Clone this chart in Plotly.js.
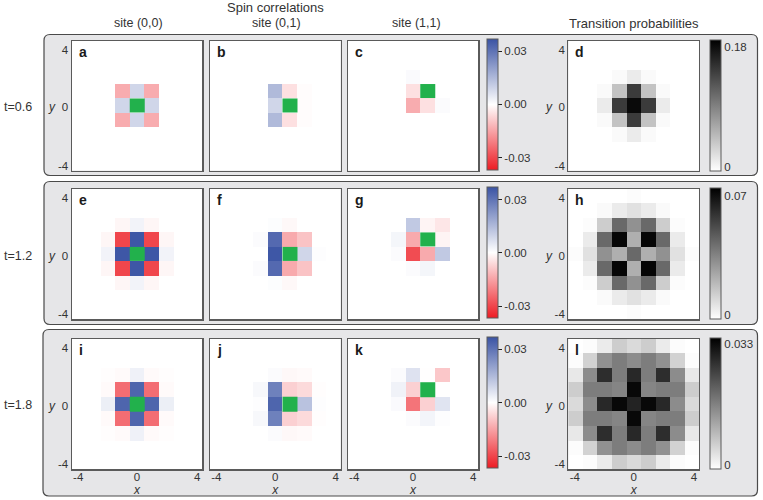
<!DOCTYPE html>
<html>
<head>
<meta charset="utf-8">
<script src="https://cdn.plot.ly/plotly-3.0.1.min.js"></script>
<style>html,body{margin:0;padding:0;background:#fff}#chart{width:763px;height:500px}</style>
</head>
<body>
<div id="chart"></div>
<script>
const o = 0;
const sites = [-4,-3,-2,-1,0,1,2,3,4];
const rowsY = [4,3,2,1,0,-1,-2,-3,-4];

const zA = [
[o,o,o,o,o,o,o,o,o],[o,o,o,o,o,o,o,o,o],[o,o,o,o,o,o,o,o,o],
[o,o,o,-.0135,.0088,-.0135,o,o,o],
[o,o,o,.0088,o,.0088,o,o,o],
[o,o,o,-.0135,.0088,-.0135,o,o,o],
[o,o,o,o,o,o,o,o,o],[o,o,o,o,o,o,o,o,o],[o,o,o,o,o,o,o,o,o]];
const zB = [
[o,o,o,o,o,o,o,o,o],[o,o,o,o,o,o,o,o,o],[o,o,o,o,o,o,o,o,o],
[o,o,o,o,.0148,-.005,-.0005,o,o],
[o,o,o,o,.0088,o,-.0005,o,o],
[o,o,o,o,.0148,-.005,-.0005,o,o],
[o,o,o,o,o,o,o,o,o],[o,o,o,o,o,o,o,o,o],[o,o,o,o,o,o,o,o,o]];
const zC = [
[o,o,o,o,o,o,o,o,o],[o,o,o,o,o,o,o,o,o],
[o,o,o,o,.001,o,o,o,o],
[o,o,o,o,-.005,o,o,o,o],
[o,o,o,o,-.0135,-.005,.0008,o,o],
[o,o,o,o,o,o,o,o,o],[o,o,o,o,o,o,o,o,o],[o,o,o,o,o,o,o,o,o],[o,o,o,o,o,o,o,o,o]];
const zD = [
[o,o,o,o,o,o,o,o,o],[o,o,o,o,o,o,o,o,o],
[o,o,o,.0035,.014,.0035,o,o,o],
[o,o,.0035,.042,.138,.042,.0035,o,o],
[o,o,.014,.138,.173,.138,.014,o,o],
[o,o,.0035,.042,.138,.042,.0035,o,o],
[o,o,o,.0035,.014,.0035,o,o,o],
[o,o,o,o,o,o,o,o,o],[o,o,o,o,o,o,o,o,o]];

const zE = [
[o,o,o,o,o,o,o,o,o],[o,o,o,o,o,o,o,o,o],
[o,o,o,-.0015,.0025,-.0015,o,o,o],
[o,o,-.0015,-.03,.036,-.03,-.0015,o,o],
[o,o,.0025,.036,o,.036,.0025,o,o],
[o,o,-.0015,-.03,.036,-.03,-.0015,o,o],
[o,o,o,-.0015,.0025,-.0015,o,o,o],
[o,o,o,o,o,o,o,o,o],[o,o,o,o,o,o,o,o,o]];
const zF = [
[o,o,o,o,o,o,o,o,o],[o,o,o,o,o,o,o,o,o],
[o,o,o,o,.0005,-.0012,o,o,o],
[o,o,o,.0008,.032,-.0137,-.0098,o,o],
[o,o,o,o,.036,o,.0088,.0004,o],
[o,o,o,.0008,.032,-.0137,-.0098,o,o],
[o,o,o,o,.0005,-.0012,o,o,o],
[o,o,o,o,o,o,o,o,o],[o,o,o,o,o,o,o,o,o]];
const zG = [
[o,o,o,o,o,o,o,o,o],[o,o,o,o,o,o,o,o,o],
[o,o,o,o,.0115,-.0018,-.004,o,o],
[o,o,o,.002,-.0137,o,-.0018,o,o],
[o,o,o,.0008,-.029,-.0137,.0115,o,o],
[o,o,o,o,.0008,.002,o,o,o],
[o,o,o,o,o,o,o,o,o],[o,o,o,o,o,o,o,o,o],[o,o,o,o,o,o,o,o,o]];
const zH = [
[o,o,o,o,.0008,o,o,o,o],
[o,o,.0014,.0055,.0082,.0055,.0014,o,o],
[o,.0008,.0137,.0412,.0302,.0412,.0137,.0008,o],
[o,.0055,.0412,.0686,.022,.0686,.0412,.0055,o],
[.0008,.0082,.0302,.022,.0412,.022,.0302,.0082,.0008],
[o,.0055,.0412,.0686,.022,.0686,.0412,.0055,o],
[o,.0008,.0137,.0412,.0302,.0412,.0137,.0008,o],
[o,o,.0014,.0055,.0082,.0055,.0014,o,o],
[o,o,o,o,.0008,o,o,o,o]];

const zI = [
[o,o,o,o,o,o,o,o,o],[o,o,o,o,o,o,o,o,o],
[o,o,-.0003,-.0008,.003,-.0008,-.0003,o,o],
[o,o,-.0008,-.0236,.033,-.0236,-.0008,o,o],
[o,o,.0035,.033,o,.033,.0035,o,o],
[o,o,-.0008,-.0236,.033,-.0236,-.0008,o,o],
[o,o,-.0003,-.0008,.003,-.0008,-.0003,o,o],
[o,o,o,o,o,o,o,o,o],[o,o,o,o,o,o,o,o,o]];
const zJ = [
[o,o,o,o,o,o,o,o,o],[o,o,o,o,o,o,o,o,o],
[o,o,o,o,.0008,-.0012,-.0008,o,o],
[o,o,o,.0015,.027,-.0076,-.006,-.0004,o],
[o,o,o,.0004,.033,o,.013,.0004,o],
[o,o,o,.0015,.027,-.0076,-.006,-.0004,o],
[o,o,o,o,.0008,-.0012,-.0008,o,o],
[o,o,o,o,o,o,o,o,o],[o,o,o,o,o,o,o,o,o]];
const zK = [
[o,o,o,o,o,o,o,o,o],[o,o,o,o,o,o,o,o,o],
[o,o,o,.0008,.0062,-.0002,-.009,o,o],
[o,o,o,.0028,-.0076,o,-.0002,o,o],
[o,o,o,.001,-.0225,-.0076,.0058,o,o],
[o,o,o,o,.0008,.0022,.0004,o,o],
[o,o,o,o,o,o,o,o,o],[o,o,o,o,o,o,o,o,o],[o,o,o,o,o,o,o,o,o]];
const zL = [
[o,.0004,.0026,.0065,.0048,.0065,.0026,.0004,o],
[.0004,.0058,.0142,.0168,.0149,.0168,.0142,.0058,.0004],
[.003,.0149,.0272,.0168,.0278,.0168,.0272,.0149,.003],
[.0065,.0168,.0168,.0158,.032,.0158,.0168,.0168,.0065],
[.0048,.0149,.0278,.032,.0285,.032,.0278,.0149,.0048],
[.0065,.0168,.0168,.0158,.032,.0158,.0168,.0168,.0065],
[.003,.0149,.0272,.0168,.0278,.0168,.0272,.0149,.003],
[.0004,.0058,.0142,.0168,.0149,.0168,.0142,.0058,.0004],
[o,.0004,.0026,.0065,.0048,.0065,.0026,.0004,o]];

const panelLetters = ['a','b','c','d','e','f','g','h','i','j','k','l'];
const panelValues = [zA,zB,zC,zD,zE,zF,zG,zH,zI,zJ,zK,zL];
const greenX = [0,1,1,null,0,1,1,null,0,1,1,null];
const greenY = [0,0,1,null,0,0,1,null,0,0,1,null];
const grayMax = [0.18,0.07,0.033];
const grayTickText = [['0','0.18'],['0','0.07'],['0','0.033']];
const grayTickPos = [[.0059,.1708],[.0025,.066],[.001,.0316]];
const corrLimit = 0.0368;
const corrTickVals = [-0.03,0,0.03];
const corrTickText = ['-0.03','0.00','0.03'];
const axisTickText = ['-4','0','4'];
const xTickPos = [-4.05,0,4.15];
const yTickPos = [-4.15,-0.12,3.87];
const rowNames = ['t=0.6','t=1.2','t=1.8'];
const colTitles = ['site (0,0)','site (0,1)','site (1,1)','Transition probabilities'];

const W = 763, H = 500;
const px = v => v / W, py = v => 1 - v / H;
const colL = [71.7,209.7,347.7,568.3], colR = [202.3,340.7,478.3,699];
const rowT = [40.7,189,338.7], rowB = [170.7,319.3,469.3];
const boxes = [[44,34.5,757.5,175.5],[44,181.5,757.5,324.5],[43,329.5,757.5,496]];
const FONT = '"Liberation Sans", Arial, Helvetica, sans-serif';
const TXT = '#333333', EDGE = '#5a5a5a';

const redBlue = [[0,'#ed1c24'],[0.5,'#ffffff'],[1,'#3a53a4']];
const whiteBlack = [[0,'#ffffff'],[1,'#000000']];

const data = [], annotations = [], shapes = [];
const layout = {
  width: W, height: H, margin: {l:0,r:0,t:0,b:0}, showlegend: false,
  paper_bgcolor: '#ffffff', plot_bgcolor: '#ffffff',
  font: {family: FONT, size: 11.5, color: TXT}, annotations, shapes
};

boxes.forEach(b => {
  const r = 6, [x0,y0,x1,y1] = b;
  const X = px, Y = py;
  shapes.push({type:'path', xref:'paper', yref:'paper', layer:'below',
    fillcolor:'#e6e6e8', line:{color:'#4a4a4a', width:1.2},
    path:`M ${X(x0+r)} ${Y(y0)} L ${X(x1-r)} ${Y(y0)} Q ${X(x1)} ${Y(y0)} ${X(x1)} ${Y(y0+r)} L ${X(x1)} ${Y(y1-r)} Q ${X(x1)} ${Y(y1)} ${X(x1-r)} ${Y(y1)} L ${X(x0+r)} ${Y(y1)} Q ${X(x0)} ${Y(y1)} ${X(x0)} ${Y(y1-r)} L ${X(x0)} ${Y(y0+r)} Q ${X(x0)} ${Y(y0)} ${X(x0+r)} ${Y(y0)} Z`});
});

function cbar(x, top, bottom, extra) {
  return Object.assign({
    thickness: 10.7, thicknessmode:'pixels', len: bottom-top, lenmode:'pixels',
    x: px(x), xanchor:'left', xpad:0, y: py((top+bottom)/2), yanchor:'middle', ypad:0,
    outlinewidth:1, outlinecolor:EDGE, borderwidth:0,
    tickmode:'array', tickfont:{family:FONT,size:11.5,color:TXT}
  }, extra);
}

panelLetters.forEach((letter, i) => {
  const r = Math.floor(i/4), c = i%4, n = i+1, suf = n===1 ? '' : String(n);
  const gray = c === 3;
  const t = {
    type:'heatmap', x:sites, y:rowsY, z:panelValues[i], xaxis:'x'+suf, yaxis:'y'+suf,
    colorscale: gray ? whiteBlack : redBlue,
    zmin: gray ? 0 : -corrLimit, zmax: gray ? grayMax[r] : corrLimit,
    hoverinfo:'skip', showscale: c === 2 || c === 3, xgap:0, ygap:0
  };
  if (c === 2) t.colorbar = cbar(487.3, rowT[r]-1.5, rowB[r]-1, {
    tickvals:corrTickVals, ticktext:corrTickText, ticks:'outside', ticklen:4, tickcolor:'#222', tickwidth:1});
  if (c === 3) t.colorbar = cbar(710, rowT[r]-0.7, rowB[r], {
    tickvals:grayTickPos[r], ticktext:grayTickText[r], ticks:'', ticklen:0});
  data.push(t);
  if (greenX[i] !== null) data.push({
    type:'heatmap', x:[greenX[i]], y:[greenY[i]], z:[[1]], xaxis:'x'+suf, yaxis:'y'+suf,
    colorscale:[[0,'#22b14c'],[1,'#22b14c']], showscale:false, hoverinfo:'skip'
  });
  const base = {range:[-4.5,4.5], showgrid:false, zeroline:false, showline:true, mirror:true,
    linecolor:EDGE, linewidth:1.2, ticks:'', tickfont:{family:FONT,size:11.5,color:TXT}, fixedrange:true,
    tickmode:'array', ticktext:axisTickText};
  layout['xaxis'+suf] = Object.assign({}, base, {
    domain:[px(colL[c]),px(colR[c])], anchor:'y'+suf,
    tickvals: r===2 ? xTickPos : [], showticklabels: r===2, ticklabelstandoff:-3,
    title: r===2 ? {text:'<i>x</i>', standoff:0, font:{family:FONT,size:12,color:TXT}} : undefined});
  layout['yaxis'+suf] = Object.assign({}, base, {
    domain:[py(rowB[r]),py(rowT[r])], anchor:'x'+suf,
    tickvals: (c===0||c===3) ? yTickPos : [], showticklabels: c===0||c===3});
  annotations.push({xref:'paper',yref:'paper',x:px(colL[c]+5),y:py(rowT[r]+11),xanchor:'left',yanchor:'middle',
    text:'<b>'+letter+'</b>',showarrow:false,font:{family:FONT,size:14,color:'#1a1a1a'}});
  if (c===0||c===3) annotations.push({xref:'paper',yref:'paper',x:px(colL[c]-19.5),y:py((rowT[r]+rowB[r])/2+1.5),
    xanchor:'center',yanchor:'middle',text:'<i>y</i>',showarrow:false,font:{family:FONT,size:12,color:TXT}});
});

function label(text,x,y,size) {
  annotations.push({xref:'paper',yref:'paper',x:px(x),y:py(y),xanchor:'center',yanchor:'middle',
    text,showarrow:false,font:{family:FONT,size:size||12.5,color:TXT}});
}
label('Spin correlations',275,7,13);
label(colTitles[0],138,23);
label(colTitles[1],276,23);
label(colTitles[2],417,23);
label(colTitles[3],634,23,13);
rowNames.forEach((n,r) => label(n,18,[107,256,404.5][r],12.5));

Plotly.newPlot('chart', data, layout, {displayModeBar:false, staticPlot:true, responsive:false});
</script>
</body>
</html>
